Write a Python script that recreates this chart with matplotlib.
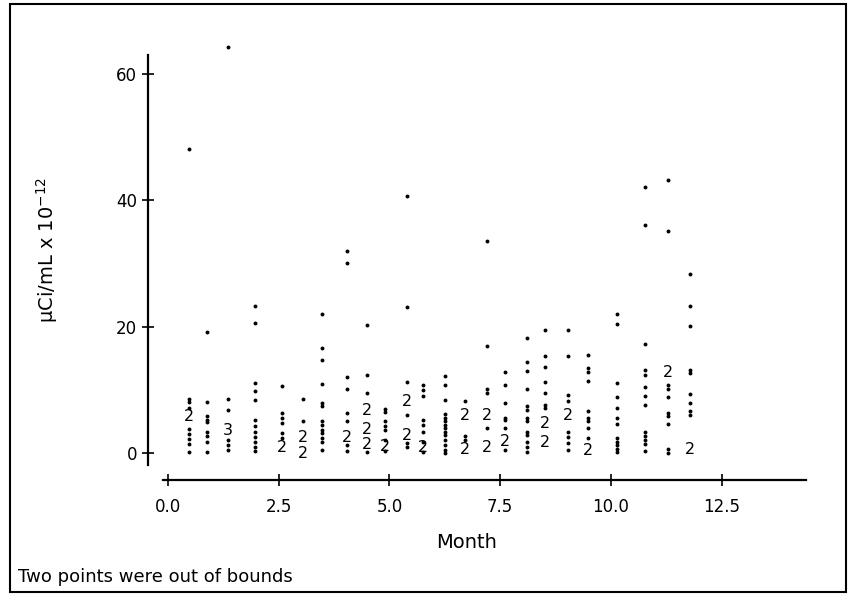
import matplotlib.pyplot as plt
from matplotlib.patches import Rectangle

plt.rcParams['font.family'] = ['DejaVu Sans']
plt.rcParams['mathtext.default'] = 'regular'

# sampling dates (month) - two per month
months = [0.47, 0.88, 1.35, 1.96, 2.57, 3.05, 3.48, 4.04, 4.49, 4.90, 5.40, 5.76,
          6.25, 6.70, 7.20, 7.61, 8.10, 8.51, 9.03, 9.48, 10.14, 10.77, 11.29, 11.78]

# single observations (uCi/mL x 1e-12)
single_vals = [
    [48.1, 8.5, 8.0, 7.2, 3.8, 3.0, 2.2, 1.5, 0.2],
    [19.1, 8.0, 5.8, 5.3, 4.9, 3.3, 2.7, 1.8, 0.1],
    [64.2, 8.6, 6.8, 2.0, 1.2, 0.5],
    [23.3, 20.6, 11.0, 9.8, 8.4, 5.3, 4.2, 3.4, 2.6, 1.8, 1.0, 0.3],
    [10.6, 6.3, 5.5, 4.7, 3.2, 2.4],
    [8.6, 5.0],
    [22.0, 16.6, 14.7, 10.9, 7.9, 7.4, 5.0, 4.4, 3.6, 3.1, 2.3, 1.8, 0.5],
    [32.0, 30.1, 12.1, 10.1, 6.3, 5.1, 1.3, 0.3],
    [20.3, 12.3, 9.5, 0.1],
    [7.0, 6.5, 5.0, 4.3, 3.6, 2.1, 0.3],
    [40.7, 23.1, 11.2, 6.0, 1.6, 1.0],
    [10.8, 10.0, 9.0, 5.3, 4.5, 3.4, 1.8, 0.2],
    [12.2, 10.7, 8.4, 6.2, 5.6, 5.0, 4.4, 3.9, 3.4, 2.8, 2.1, 1.3, 0.5, 0.0],
    [8.3, 2.7, 2.0],
    [33.5, 16.9, 10.2, 9.5, 3.9],
    [12.8, 10.7, 7.9, 5.6, 5.2, 4.0, 0.4],
    [18.2, 14.4, 12.9, 10.2, 7.4, 6.8, 5.5, 5.0, 3.4, 2.8, 1.8, 1.0, 0.2],
    [19.5, 15.3, 13.6, 11.3, 9.5, 7.6, 7.2],
    [19.5, 15.4, 9.2, 8.3, 3.3, 2.6, 1.6, 0.4],
    [15.5, 13.5, 12.8, 11.4, 6.6, 5.6, 5.0, 3.9, 2.4],
    [22.0, 20.4, 11.0, 8.9, 7.1, 5.6, 4.6, 2.4, 1.8, 1.2, 0.6, 0.1],
    [42.1, 36.1, 17.2, 13.1, 12.3, 10.4, 9.0, 7.6, 3.3, 2.7, 2.0, 1.4, 0.3],
    [43.2, 35.1, 10.8, 10.1, 8.9, 6.3, 5.8, 4.6, 0.7, 0.0],
    [28.3, 23.3, 20.1, 13.1, 12.6, 9.4, 7.9, 6.6, 6.0],
]

# two coincident observations, plotted as "2"
double_vals = [
    [5.8], [], [], [], [0.8], [2.5, 0.0], [], [2.4], [6.8, 3.7, 1.4], [1.0],
    [8.2, 2.8], [0.9], [], [6.0, 0.6], [6.0, 0.8], [1.9], [], [4.6, 1.6],
    [5.9], [0.4], [], [], [12.8], [0.5],
]

# three coincident observations, plotted as "3"
triple_vals = [
    [], [], [3.6], [], [], [], [], [], [], [], [], [],
    [], [], [], [], [], [], [], [], [], [], [], [],
]

x_ticks = [0, 2.5, 5.0, 7.5, 10.0, 12.5]
y_ticks = [0, 20, 40, 60]

fig = plt.figure(figsize=(8.5, 5.96), dpi=100)
ax = fig.add_axes([148 / 850, (596 - 480) / 596, (806 - 148) / 850, (480 - 40) / 596])
ax.set_xlim(-0.4515, 14.402)
ax.set_ylim(-4.27, 65.35)

for m, vals in zip(months, single_vals):
    ax.plot([m] * len(vals), vals, 'o', ms=2.8, color='black', mec='none', clip_on=False)
for m, vals in zip(months, double_vals):
    for v in vals:
        ax.text(m, v, '2', ha='center', va='center', fontsize=11.5)
for m, vals in zip(months, triple_vals):
    for v in vals:
        ax.text(m, v, '3', ha='center', va='center', fontsize=11.5)

# axes in the old SAS style
ax.spines['top'].set_visible(False)
ax.spines['right'].set_visible(False)
ax.spines['left'].set_bounds(-1.9, 63.0)
ax.spines['bottom'].set_bounds(-0.11, 14.40)
ax.spines['left'].set_linewidth(1.6)
ax.spines['bottom'].set_linewidth(1.6)
ax.set_xticks(x_ticks)
ax.set_yticks(y_ticks)
ax.tick_params(direction='inout', length=8, width=1.2, labelsize=12)
ax.tick_params(axis='x', pad=9)
ax.tick_params(axis='y', pad=4)
ax.patch.set_alpha(0)

fig.text(47 / 850, 1 - 250 / 596, 'µCi/mL x 10$^{-12}$', rotation=90,
         ha='center', va='center', fontsize=14)
fig.text(467 / 850, 1 - 543 / 596, 'Month', ha='center', va='center', fontsize=14)
fig.text(18 / 850, 1 - 577 / 596, 'Two points were out of bounds', ha='left',
         va='center', fontsize=13)

# page frame
fig.patches.append(Rectangle((10 / 850, 4 / 596), 836 / 850, 588 / 596,
                             transform=fig.transFigure, fill=False, lw=1.5, color='black'))

fig.savefig('out.png', dpi=100)
